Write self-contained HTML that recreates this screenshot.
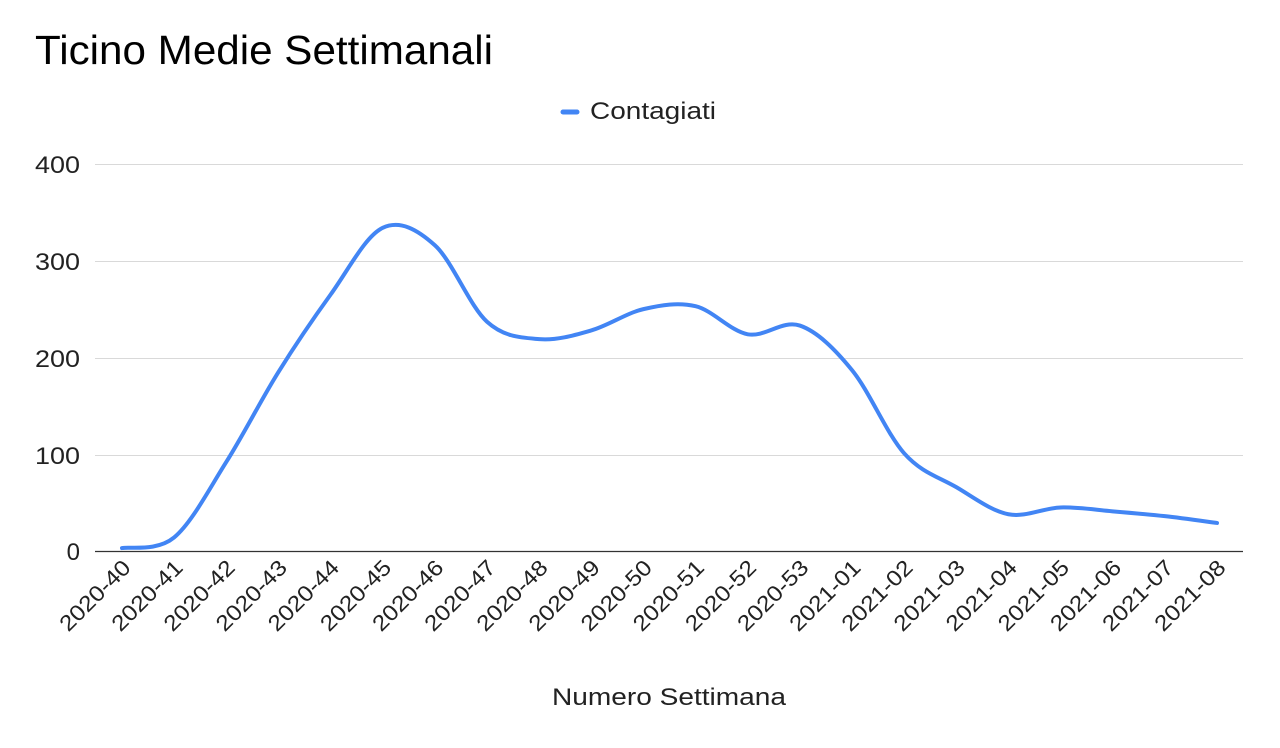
<!DOCTYPE html>
<html><head><meta charset="utf-8"><style>
html,body{margin:0;padding:0;background:#fff;}
svg{display:block;font-family:"Liberation Sans",Arial,sans-serif;}
</style></head><body>
<svg id="s" width="1280" height="748" viewBox="0 0 1280 748">
<text x="35" y="64" font-size="41" fill="#000" textLength="458" lengthAdjust="spacingAndGlyphs">Ticino Medie Settimanali</text>
<line x1="563" y1="112" x2="577" y2="112" stroke="#4285f4" stroke-width="5" stroke-linecap="round"/>
<text x="590" y="119" font-size="24" fill="#222" textLength="126" lengthAdjust="spacingAndGlyphs">Contagiati</text>
<g stroke="#d9d9d9" stroke-width="1">
<line x1="95" y1="164.5" x2="1243" y2="164.5"/>
<line x1="95" y1="261.5" x2="1243" y2="261.5"/>
<line x1="95" y1="358.5" x2="1243" y2="358.5"/>
<line x1="95" y1="455.5" x2="1243" y2="455.5"/>
</g>
<line x1="95" y1="551.5" x2="1243" y2="551.5" stroke="#333" stroke-width="1.3"/>
<g font-size="24" fill="#222" text-anchor="end">
<text x="80" y="173" textLength="45" lengthAdjust="spacingAndGlyphs">400</text>
<text x="80" y="270" textLength="45" lengthAdjust="spacingAndGlyphs">300</text>
<text x="80" y="367" textLength="45" lengthAdjust="spacingAndGlyphs">200</text>
<text x="80" y="464" textLength="45" lengthAdjust="spacingAndGlyphs">100</text>
<text x="80" y="560">0</text>
</g>
<g id="xl" font-size="22" fill="#222" text-anchor="end"></g>
<path id="ln" fill="none" stroke="#4285f4" stroke-width="4" stroke-linejoin="round" stroke-linecap="round"/>
<text x="669" y="705" font-size="24" fill="#222" text-anchor="middle" textLength="234" lengthAdjust="spacingAndGlyphs">Numero Settimana</text>
</svg>
<script>
var v=[3,14,92,185,265,334,316,237,219,228,250,253,224,233,187,101,66,38,45,41,36,29];
var labels=[];for(var i=40;i<=53;i++)labels.push("2020-"+i);for(i=1;i<=8;i++)labels.push("2021-0"+i);
var x0=122,dx=(1217-122)/21;
function Y(a){return 551-a*0.9675;}
var p=v.map(function(a,i){return [x0+i*dx,Y(a)];});
var d="M"+p[0][0]+","+p[0][1];
for(i=0;i<p.length-1;i++){
 var p0=p[i-1]||p[i],p1=p[i],p2=p[i+1],p3=p[i+2]||p[i+1];
 var c1=[p1[0]+(p2[0]-p0[0])/6,p1[1]+(p2[1]-p0[1])/6];
 var c2=[p2[0]-(p3[0]-p1[0])/6,p2[1]-(p3[1]-p1[1])/6];
 d+=" C"+c1+" "+c2+" "+p2;
}
document.getElementById("ln").setAttribute("d",d);
var g=document.getElementById("xl"),h="";
labels.forEach(function(l,i){var x=x0+i*dx+10,y=569;h+='<text x="'+x+'" y="'+y+'" transform="rotate(-45 '+x+' '+y+')" textLength="90" lengthAdjust="spacingAndGlyphs">'+l+'</text>';});
g.innerHTML=h;
</script>
</body></html>
